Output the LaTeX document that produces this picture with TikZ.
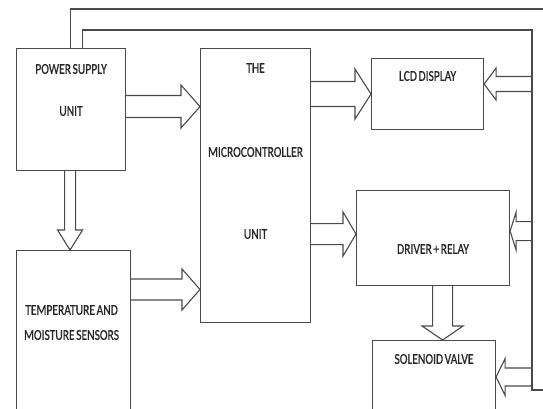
\documentclass[tikz,border=0pt]{standalone}
\usepackage{fontspec}
\setmainfont{Carlito}[FakeStretch=0.77,WordSpace=0.6,FakeBold=0.6]
\usepackage{tikz}
\usetikzlibrary{calc}
\definecolor{wire}{HTML}{4A4A4A}
\definecolor{ink}{HTML}{262626}
\tikzset{
  blockbox/.style={rectangle,draw=wire,line width=1.1pt,anchor=north west,inner sep=0pt},
  blocklabel/.style={font=\fontsize{15}{17}\selectfont,text=ink,inner sep=0pt},
  fatline/.style={draw=wire,line width=1.1pt,line join=miter},
  busline/.style={draw=wire,line width=1.1pt},
}
% hollow block arrow: tail, tip, shaft half width, head half width, head length
\newcommand{\fatarrow}[5]{%
  \draw[fatline] ($(#1)!#3!90:(#2)$)
    -- ($(#2)!#5!(#1)!#3!90:(#2)$)
    -- ($(#2)!#5!(#1)!#4!90:(#2)$)
    -- (#2)
    -- ($(#2)!#5!(#1)!#4!-90:(#2)$)
    -- ($(#2)!#5!(#1)!#3!-90:(#2)$)
    -- ($(#1)!#3!-90:(#2)$);%
}

\begin{document}
\begin{tikzpicture}[x=1pt,y=-1pt]
  \clip (0,0) rectangle (543,409);
  \fill[white] (0,0) rectangle (543,409);

  \node[blockbox,minimum width=109pt,minimum height=122pt] (psu) at (16,48) {};
  \node[blockbox,minimum width=114pt,minimum height=200pt] (sens) at (16,250) {};
  \node[blockbox,minimum width=110pt,minimum height=274pt] (mcu) at (200,48) {};
  \node[blockbox,minimum width=112pt,minimum height=71pt] (lcd) at (371,58) {};
  \node[blockbox,minimum width=153pt,minimum height=95pt] (relay) at (356,190) {};
  \node[blockbox,minimum width=123pt,minimum height=100pt] (valve) at (372,340) {};

  \node[blocklabel] (psut1) at ($(psu.north)+(0,21)$) {POWER SUPPLY};
  \node[blocklabel] (psut2) at ($(psu.north)+(0,63)$) {UNIT};
  \node[blocklabel] (mcut1) at ($(mcu.north)+(0,20)$) {THE};
  \node[blocklabel] (mcut2) at ($(mcu.north)+(0,104)$) {MICROCONTROLLER};
  \node[blocklabel] (mcut3) at ($(mcu.north)+(0,186)$) {UNIT};
  \node[blocklabel] (lcdt) at ($(lcd.north)+(0,18)$) {LCD DISPLAY};
  \node[blocklabel] (relayt) at ($(relay.north)+(0,59)$) {DRIVER + RELAY};
  \node[blocklabel] (valvet) at ($(valve.north)+(0,19)$) {SOLENOID VALVE};
  \node[blocklabel] (senst1) at ($(sens.north)+(-2,60)$) {TEMPERATURE AND};
  \node[blocklabel] (senst2) at ($(sens.north)+(-2,85)$) {MOISTURE SENSORS};

  % supply bus
  \coordinate (railtop) at (532,30);
  \coordinate (railbot) at (532,390);
  \coordinate (busout) at (548,9);
  \coordinate (busin) at (548,390);
  \draw[busline] ($(psu.north)+(-1,0)$) |- (busout);
  \draw[busline] ($(psu.north)+(11,0)$) |- (railtop) -- (railbot) -- (busin);

  % power supply -> microcontroller
  \coordinate (a1s) at ($(psu.east)+(0,-3)$);
  \coordinate (a1e) at (a1s -| mcu.west);
  \fatarrow{a1s}{a1e}{11pt}{21.5pt}{19pt}
  % sensors -> microcontroller
  \coordinate (a2s) at ($(sens.north east)+(0,39.5)$);
  \coordinate (a2e) at (a2s -| mcu.west);
  \fatarrow{a2s}{a2e}{10.5pt}{20.5pt}{18pt}
  % power supply -> sensors
  \coordinate (a3s) at ($(psu.south)+(-1,0)$);
  \coordinate (a3e) at (a3s |- sens.north);
  \fatarrow{a3s}{a3e}{5.5pt}{12.5pt}{20pt}
  % microcontroller -> lcd
  \coordinate (a4s) at (mcu.east |- lcd.west);
  \fatarrow{a4s}{lcd.west}{12.5pt}{25pt}{16pt}
  % bus -> lcd
  \coordinate (a5e) at ($(lcd.east)+(0,-10)$);
  \coordinate (a5s) at (a5e -| railtop);
  \fatarrow{a5s}{a5e}{7.5pt}{16pt}{12pt}
  % microcontroller -> relay
  \coordinate (a6e) at ($(relay.west)+(0,-4)$);
  \coordinate (a6s) at (a6e -| mcu.east);
  \fatarrow{a6s}{a6e}{10.5pt}{22pt}{13pt}
  % bus -> relay
  \coordinate (a7e) at ($(relay.east)+(0,-7)$);
  \coordinate (a7s) at (a7e -| railtop);
  \fatarrow{a7s}{a7e}{9.5pt}{19pt}{6pt}
  % relay -> valve
  \coordinate (a8s) at ($(relay.south)+(9.5,0)$);
  \coordinate (a8e) at (a8s |- valve.north);
  \fatarrow{a8s}{a8e}{10pt}{20.5pt}{14pt}
  % bus -> valve
  \coordinate (a9e) at ($(valve.north east)+(0,37)$);
  \coordinate (a9s) at (a9e -| railtop);
  \fatarrow{a9s}{a9e}{9pt}{18.5pt}{9pt}
\end{tikzpicture}
\end{document}
